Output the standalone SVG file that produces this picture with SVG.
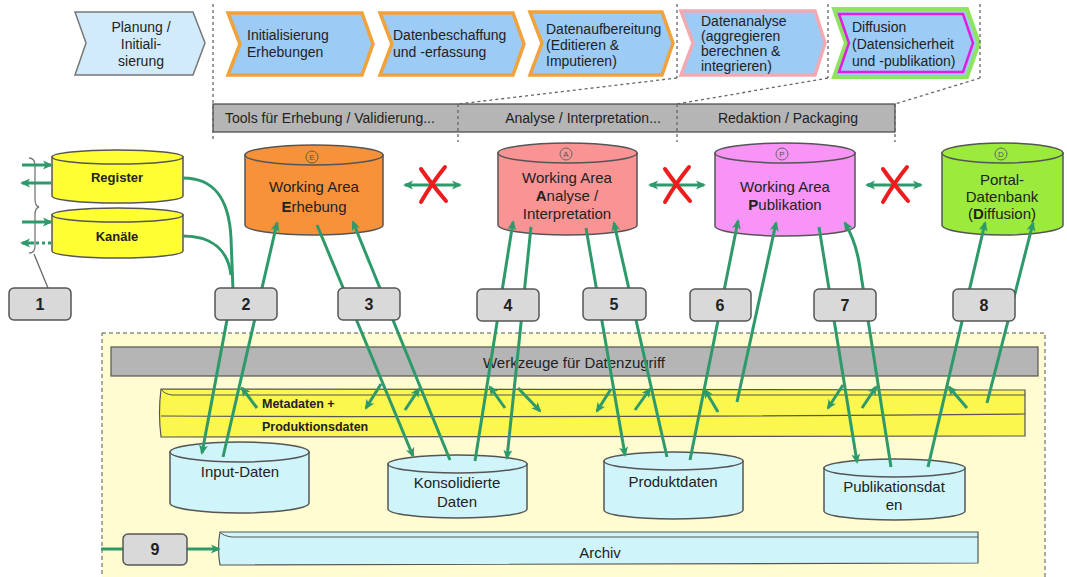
<svg xmlns="http://www.w3.org/2000/svg" width="1067" height="577" viewBox="0 0 1067 577">
<defs>
<style>
text{font-family:"Liberation Sans",Arial,sans-serif;fill:#222;}
.ct{font-size:14px;}
.cy{font-size:15px;text-anchor:middle;}
.mid{text-anchor:middle;}
.chev{fill:#9ccbf6;stroke:#f2a23a;stroke-width:3.5;stroke-linejoin:miter;}
.cyl{stroke:#555;stroke-width:1.5;}
.box rect{fill:#d9d9d9;stroke:#555;stroke-width:1.5;}
.box text{font-size:16px;font-weight:bold;text-anchor:middle;}
.con{fill:none;stroke:#2e9a6b;stroke-width:3;}
.arr{marker-end:url(#ah);}
.dot{fill:none;stroke:#666;stroke-width:1.3;stroke-dasharray:3,3;}
.rx{fill:none;stroke:#ee1c1c;stroke-width:4;stroke-linecap:round;}
.lt{font-size:8px;text-anchor:middle;fill:#555;}
</style>
<marker id="ah" viewBox="0 0 10 10" refX="8" refY="5" markerWidth="10" markerHeight="10" markerUnits="userSpaceOnUse" orient="auto-start-reverse">
<path d="M0,0.5 L10,5 L0,9.5 L2.5,5 z" fill="#2e9a6b"/>
</marker>
</defs>
<rect width="1067" height="577" fill="#fff"/>

<!-- process chevrons -->
<g id="planung">
<polygon points="75,12 193,12 205,43 193,75 75,75 86,43" fill="#d2ebfb" stroke="#777" stroke-width="1.5"/>
<text class="ct mid" x="141" y="32">Planung /</text>
<text class="ct mid" x="141" y="49">Initiali-</text>
<text class="ct mid" x="141" y="66">sierung</text>
</g>
<g id="init">
<polygon class="chev" points="228,13 362,13 373,44 362,75 228,75 240,44"/>
<text class="ct" x="247" y="40">Initialisierung</text>
<text class="ct" x="247" y="57">Erhebungen</text>
</g>
<g id="beschaffung">
<polygon class="chev" points="380,13 513,13 524,44 513,75 380,75 392,44"/>
<text class="ct" x="393" y="40">Datenbeschaffung</text>
<text class="ct" x="393" y="57">und -erfassung</text>
</g>
<g id="aufbereitung">
<polygon class="chev" points="530,12 662,12 673,43 662,75 530,75 542,43"/>
<text class="ct" x="546" y="34">Datenaufbereitung</text>
<text class="ct" x="546" y="50">(Editieren &amp;</text>
<text class="ct" x="546" y="66">Imputieren)</text>
</g>
<g id="analyse">
<polygon class="chev" style="stroke:#f2a9b2" points="681,11 815,11 825,43 815,75 681,75 693,43"/>
<text class="ct" x="701" y="26">Datenanalyse</text>
<text class="ct" x="701" y="41">(aggregieren</text>
<text class="ct" x="701" y="56">berechnen &amp;</text>
<text class="ct" x="701" y="71">integrieren)</text>
</g>
<g id="diffusion">
<polygon points="834,9 967,9 979,43 967,77 834,77 846,43" fill="#9ccbf6" stroke="#8fe45e" stroke-width="4"/>
<polygon points="839,14 963,14 973,43 963,72 839,72 849,43" fill="#9ccbf6" stroke="#e01ee0" stroke-width="2.5"/>
<text class="ct" x="852" y="32">Diffusion</text>
<text class="ct" x="852" y="49">(Datensicherheit</text>
<text class="ct" x="852" y="66">und -publikation)</text>
</g>

<!-- tool bar -->
<g id="toolbar">
<rect x="213" y="104" width="682" height="28" fill="#b5b5b5" stroke="#444" stroke-width="1.2"/>
<text class="ct" x="225" y="123">Tools für Erhebung / Validierung...</text>
<text class="ct mid" x="583" y="123">Analyse / Interpretation...</text>
<text class="ct mid" x="788" y="123">Redaktion / Packaging</text>
</g>
<g id="dividers">
<line class="dot" x1="213" y1="4" x2="213" y2="142"/>
<line class="dot" x1="458" y1="104" x2="458" y2="142"/>
<line class="dot" x1="677" y1="4" x2="677" y2="78"/>
<line class="dot" x1="677" y1="104" x2="677" y2="142"/>
<line class="dot" x1="828" y1="4" x2="828" y2="78"/>
<line class="dot" x1="895" y1="104" x2="895" y2="142"/>
<line class="dot" x1="980" y1="4" x2="980" y2="78"/>
<line class="dot" x1="677" y1="78" x2="458" y2="104"/>
<line class="dot" x1="828" y1="78" x2="677" y2="104"/>
<line class="dot" x1="980" y1="78" x2="895" y2="104"/>
</g>

<!-- bottom panel -->
<g id="panel">
<rect x="102" y="333" width="943" height="245" fill="#fffcd2" stroke="#555" stroke-width="1" stroke-dasharray="4,3"/>
<rect x="111" y="347" width="927" height="29" fill="#b5b5b5" stroke="#555" stroke-width="1.2"/>
<text class="cy" x="574" y="368">Werkzeuge für Datenzugriff</text>
</g>
<g id="metadaten">
<path d="M161,389 L1025,390 L1025,436 L161,437 Q158,413 161,389 Z" fill="#fcf74e" stroke="#555" stroke-width="1.2"/>
<path d="M161,389 Q164,394 172,395 L1025,395" fill="none" stroke="#555" stroke-width="1"/>
<path d="M161,416 Q592,418 1025,414" fill="none" stroke="#555" stroke-width="1.2"/>
<text x="262" y="408" font-size="12.5" font-weight="bold">Metadaten +</text>
<text x="262" y="431" font-size="12.5" font-weight="bold">Produktionsdaten</text>
</g>
<g id="archiv">
<path d="M220,532 L978,532 L978,563 L220,565 Q217,548 220,532 Z" fill="#cff5fb" stroke="#555" stroke-width="1.2"/>
<path d="M220,532 Q223,536 232,537 L978,537" fill="none" stroke="#555" stroke-width="1"/>
<text class="cy" x="600" y="558">Archiv</text>
</g>

<!-- cylinders -->
<g id="register">
<path class="cyl" fill="#ffff33" d="M52,157 V196 A65.5,7 0 0 0 183,196 V157 Z"/>
<ellipse class="cyl" fill="#ffff33" cx="117.5" cy="157" rx="65.5" ry="7"/>
<text x="117" y="182" font-size="13" font-weight="bold" text-anchor="middle">Register</text>
</g>
<g id="kanaele">
<path class="cyl" fill="#ffff33" d="M52,215 V251 A65.5,7 0 0 0 183,251 V215 Z"/>
<ellipse class="cyl" fill="#ffff33" cx="117.5" cy="215" rx="65.5" ry="7"/>
<text x="117" y="241" font-size="13" font-weight="bold" text-anchor="middle">Kanäle</text>
</g>
<g id="wa-erhebung">
<path class="cyl" fill="#f7923a" d="M245,155 V225 A69,10 0 0 0 383,225 V155 Z"/>
<ellipse class="cyl" fill="#f7923a" cx="314" cy="155" rx="69" ry="10"/>
<circle cx="312" cy="157" r="6" fill="none" stroke="#7a5a20" stroke-width="1"/>
<text class="lt" x="312" y="160">E</text>
<text class="cy" x="314" y="192">Working Area</text>
<text class="cy" x="314" y="212"><tspan font-weight="bold">E</tspan>rhebung</text>
</g>
<g id="wa-analyse">
<path class="cyl" fill="#fa9494" d="M498,153 V225 A69.5,10 0 0 0 637,225 V153 Z"/>
<ellipse class="cyl" fill="#fa9494" cx="567.5" cy="153" rx="69.5" ry="10"/>
<circle cx="566" cy="154" r="6" fill="none" stroke="#666" stroke-width="1"/>
<text class="lt" x="566" y="157">A</text>
<text class="cy" x="567" y="183">Working Area</text>
<text class="cy" x="567" y="201"><tspan font-weight="bold">A</tspan>nalyse /</text>
<text class="cy" x="567" y="219">Interpretation</text>
</g>
<g id="wa-publikation">
<path class="cyl" fill="#f894f6" d="M715,153 V226 A70,10 0 0 0 855,226 V153 Z"/>
<ellipse class="cyl" fill="#f894f6" cx="785" cy="153" rx="70" ry="10"/>
<circle cx="782" cy="154" r="6" fill="none" stroke="#666" stroke-width="1"/>
<text class="lt" x="782" y="157">P</text>
<text class="cy" x="785" y="192">Working Area</text>
<text class="cy" x="785" y="210"><tspan font-weight="bold">P</tspan>ublikation</text>
</g>
<g id="portal">
<path class="cyl" fill="#9bea3c" d="M942,153 V225 A60.5,10 0 0 0 1063,225 V153 Z"/>
<ellipse class="cyl" fill="#9bea3c" cx="1002.5" cy="153" rx="60.5" ry="10"/>
<circle cx="1001" cy="154" r="6" fill="none" stroke="#666" stroke-width="1"/>
<text class="lt" x="1001" y="157">D</text>
<text class="cy" x="1002" y="185">Portal-</text>
<text class="cy" x="1002" y="202">Datenbank</text>
<text class="cy" x="1002" y="219">(<tspan font-weight="bold">D</tspan>iffusion)</text>
</g>
<g id="input-daten">
<path class="cyl" fill="#cff5fb" d="M170,452 V503 A69.5,10 0 0 0 309,503 V452 Z"/>
<ellipse class="cyl" fill="#cff5fb" cx="239.5" cy="452" rx="69.5" ry="10"/>
<text class="cy" x="240" y="477">Input-Daten</text>
</g>
<g id="konsolidierte-daten">
<path class="cyl" fill="#cff5fb" d="M388,464 V509 A69.5,9 0 0 0 527,509 V464 Z"/>
<ellipse class="cyl" fill="#cff5fb" cx="457.5" cy="464" rx="69.5" ry="9"/>
<text class="cy" x="457" y="488">Konsolidierte</text>
<text class="cy" x="457" y="507">Daten</text>
</g>
<g id="produktdaten">
<path class="cyl" fill="#cff5fb" d="M604,461 V510 A69.5,9 0 0 0 743,510 V461 Z"/>
<ellipse class="cyl" fill="#cff5fb" cx="673.5" cy="461" rx="69.5" ry="9"/>
<text class="cy" x="673" y="487">Produktdaten</text>
</g>
<g id="publikationsdaten">
<path class="cyl" fill="#cff5fb" d="M824,468 V511 A70.5,9 0 0 0 965,511 V468 Z"/>
<ellipse class="cyl" fill="#cff5fb" cx="894.5" cy="468" rx="70.5" ry="9"/>
<text class="cy" x="894" y="492">Publikationsdat</text>
<text class="cy" x="894" y="510">en</text>
</g>

<!-- brace for step 1 -->
<g id="brace">
<path d="M29,158 Q35,158 35,166 L35,199 Q35,206 39,207 Q35,208 35,215 L35,246 Q35,253 29,253" fill="none" stroke="#777" stroke-width="1.3"/>
<line x1="34" y1="254" x2="48" y2="288" stroke="#666" stroke-width="1.3"/>
</g>

<!-- connectors -->
<g id="connectors">
<line class="con arr" x1="22" y1="165" x2="51" y2="165"/>
<line class="con arr" x1="51" y1="183" x2="22" y2="183"/>
<line class="con arr" x1="22" y1="222" x2="51" y2="222"/>
<line class="con" x1="51" y1="243" x2="34" y2="243" stroke-dasharray="3,3"/>
<line class="con arr" x1="34" y1="243" x2="22" y2="243"/>

<path class="con" d="M183,178 C214,178 229,198 231,238 L233,290"/>
<path class="con" d="M183,236 C212,236 228,250 231,275"/>
<path class="con arr" d="M233,288 L202,453"/>
<path class="con arr" d="M223,457 L277,223"/>
<path class="con arr" d="M317,225 L413,456"/>
<path class="con arr" d="M450,460 L353,222"/>
<path class="con arr" d="M475,461 L513,222"/>
<path class="con arr" d="M531,227 L507,458"/>
<path class="con arr" d="M586,228 L625,455"/>
<path class="con arr" d="M667,457 L614,223"/>
<path class="con arr" d="M690,460 L738,221"/>
<path class="con arr" d="M737,402 L776,223"/>
<path class="con arr" d="M819,227 L857,462"/>
<path class="con arr" d="M891,467 L859,262 Q855,240 845,223"/>
<path class="con arr" d="M928,467 L985,223"/>
<path class="con arr" d="M987,403 L1033,223"/>

<path class="con arr" d="M257,408 L242,388"/>
<path class="con arr" d="M381,384 L366,408"/>
<path class="con arr" d="M405,410 L419,389"/>
<path class="con arr" d="M505,408 L490,387"/>
<path class="con arr" d="M518,388 L540,411"/>
<path class="con arr" d="M611,389 L597,411"/>
<path class="con arr" d="M635,410 L650,389"/>
<path class="con arr" d="M718,412 L705,390"/>
<path class="con arr" d="M843,385 L828,408"/>
<path class="con arr" d="M862,408 L876,387"/>
<path class="con arr" d="M967,408 L949,387"/>

<line class="con arr" x1="405" y1="185" x2="460" y2="185" marker-start="url(#ah)"/>
<line class="con arr" x1="650" y1="185" x2="704" y2="185" marker-start="url(#ah)"/>
<line class="con arr" x1="867" y1="185" x2="921" y2="185" marker-start="url(#ah)"/>

<line class="con" x1="101" y1="549" x2="123" y2="549"/>
<line class="con arr" x1="187" y1="549" x2="219" y2="549"/>
</g>

<!-- red crosses -->
<g id="crosses">
<path class="rx" d="M421,169 Q430,182 446,201 M445,167 Q432,183 421,202"/>
<path class="rx" d="M665,169 Q674,182 690,201 M689,167 Q676,183 665,202"/>
<path class="rx" d="M883,169 Q892,182 908,201 M907,167 Q894,183 883,202"/>
</g>

<!-- numbered boxes -->
<g id="box1" class="box"><rect x="9" y="288" width="62" height="32" rx="5"/><text x="40" y="310">1</text></g>
<g id="box2" class="box"><rect x="215" y="288" width="62" height="32" rx="5"/><text x="246" y="310">2</text></g>
<g id="box3" class="box"><rect x="338" y="288" width="62" height="32" rx="5"/><text x="369" y="310">3</text></g>
<g id="box4" class="box"><rect x="477" y="289" width="62" height="32" rx="5"/><text x="508" y="311">4</text></g>
<g id="box5" class="box"><rect x="583" y="288" width="63" height="32" rx="5"/><text x="614" y="310">5</text></g>
<g id="box6" class="box"><rect x="690" y="289" width="61" height="32" rx="5"/><text x="720" y="311">6</text></g>
<g id="box7" class="box"><rect x="814" y="289" width="62" height="32" rx="5"/><text x="845" y="311">7</text></g>
<g id="box8" class="box"><rect x="953" y="289" width="62" height="32" rx="5"/><text x="984" y="311">8</text></g>
<g id="box9" class="box"><rect x="123" y="534" width="64" height="31" rx="5"/><text x="155" y="555">9</text></g>
</svg>
